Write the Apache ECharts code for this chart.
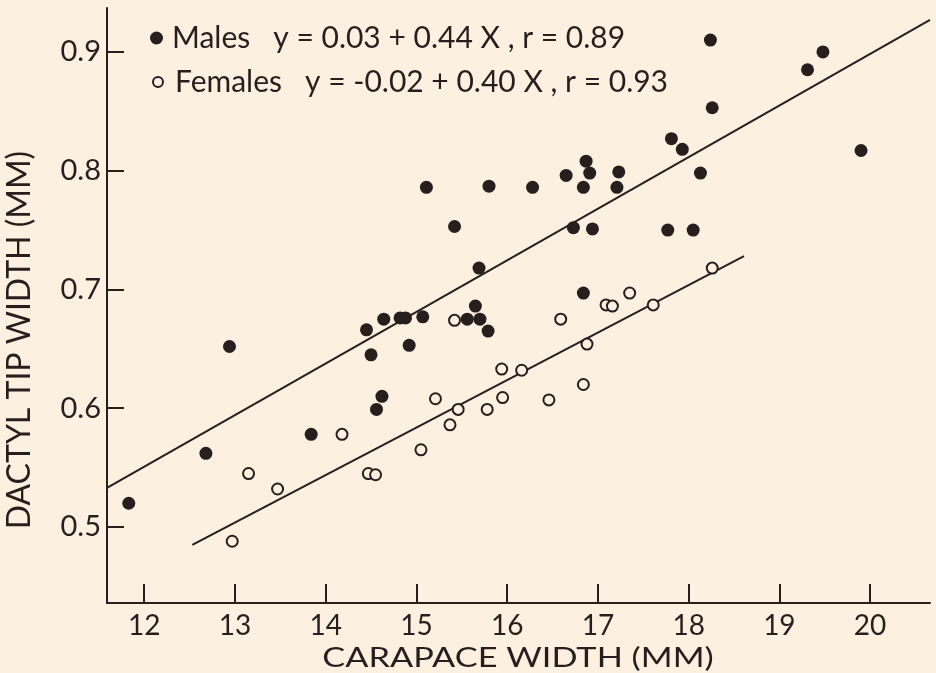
<!DOCTYPE html>
<html>
<head>
<meta charset="utf-8">
<script src="https://cdn.jsdelivr.net/npm/echarts@6/dist/echarts.min.js"></script>
<style>
  html, body { margin: 0; padding: 0; background: #fcf1e0; }
  #dactyl-chart { width: 936px; height: 673px; }
</style>
</head>
<body>
<div id="dactyl-chart"></div>
<script>
// carapace width (mm) / dactyl tip width (mm)
const maleX = [11.83, 12.68, 12.94, 13.84, 14.45, 14.50, 14.56, 14.62, 14.64, 14.82, 14.88, 14.92, 15.07, 15.11,
  15.42, 15.56, 15.65, 15.69, 15.70, 15.79, 15.80, 16.28, 16.65, 16.73, 16.84, 16.87, 16.84, 16.91, 16.94,
  17.21, 17.23, 17.77, 17.81, 17.93, 18.05, 18.13, 18.24, 18.26, 19.31, 19.48, 19.90];
const maleY = [0.520, 0.562, 0.652, 0.578, 0.666, 0.645, 0.599, 0.610, 0.675, 0.676, 0.676, 0.653, 0.677, 0.786,
  0.753, 0.675, 0.686, 0.718, 0.675, 0.665, 0.787, 0.786, 0.796, 0.752, 0.786, 0.808, 0.697, 0.798, 0.751,
  0.786, 0.799, 0.750, 0.827, 0.818, 0.750, 0.798, 0.910, 0.853, 0.885, 0.900, 0.817];
const femaleX = [12.97, 13.15, 13.47, 14.18, 14.47, 14.55, 15.05, 15.21, 15.37, 15.46, 15.42, 15.78, 15.94,
  15.95, 16.16, 16.46, 16.59, 16.84, 16.88, 17.09, 17.16, 17.35, 17.61, 18.26];
const femaleY = [0.488, 0.545, 0.532, 0.578, 0.545, 0.544, 0.565, 0.608, 0.586, 0.599, 0.674, 0.599, 0.633,
  0.609, 0.632, 0.607, 0.675, 0.620, 0.654, 0.687, 0.686, 0.697, 0.687, 0.718];

// fitted lines, as drawn (end points)
const maleLineX = [11.59, 20.66];
const maleLineY = [0.533, 0.927];
const femaleLineX = [12.53, 18.61];
const femaleLineY = [0.485, 0.728];

const xTicks = [12, 13, 14, 15, 16, 17, 18, 19, 20];
const yTicks = [0.5, 0.6, 0.7, 0.8, 0.9];

const maleText = 'Males   y = 0.03 + 0.44 X , r = 0.89';
const femaleText = 'Females   y = -0.02 + 0.40 X , r = 0.93';
const xTitle = 'CARAPACE WIDTH (MM)';
const yTitle = 'DACTYL TIP WIDTH (MM)';

const ink = '#261f1e';
const paper = '#fcf1e0';
const font = 'Lato';

const zip = (xs, ys) => xs.map((x, i) => [x, ys[i]]);

const chartDom = document.getElementById('dactyl-chart');
const myChart = echarts.init(chartDom);

const option = {
  backgroundColor: paper,
  animation: false,
  textStyle: { fontFamily: font, color: ink },
  grid: { left: 107, right: 6, top: 8, bottom: 70 },
  legend: [
    {
      data: ['Males'],
      left: 150,
      top: 23,
      padding: 0,
      icon: 'circle',
      itemWidth: 13,
      itemHeight: 13,
      formatter: () => maleText,
      textStyle: { fontFamily: font, fontSize: 30, color: ink, padding: [0, 0, 0, 4] }
    },
    {
      data: ['Females'],
      left: 152,
      top: 67,
      padding: 0,
      icon: 'circle',
      itemWidth: 10,
      itemHeight: 10,
      formatter: () => femaleText,
      textStyle: { fontFamily: font, fontSize: 30, color: ink, padding: [0, 0, 0, 7] }
    }
  ],
  // axis titles: the original lettering is much wider than any installed face
  graphic: [
    {
      type: 'text',
      x: 518,
      y: 659,
      scaleX: 1.32,
      style: {
        text: xTitle,
        font: '26px ' + font,
        fill: ink,
        align: 'center',
        verticalAlign: 'middle'
      }
    },
    {
      type: 'text',
      x: 20,
      y: 340,
      rotation: Math.PI / 2,
      style: {
        text: yTitle,
        font: '32px ' + font,
        fill: ink,
        align: 'center',
        verticalAlign: 'middle'
      }
    }
  ],
  xAxis: {
    type: 'value',
    min: 11.59,
    max: 20.66,
    axisLine: { show: true, lineStyle: { color: ink, width: 2 } },
    axisTick: { show: true, inside: true, length: 19, customValues: xTicks, lineStyle: { color: ink, width: 2 } },
    axisLabel: { customValues: xTicks, fontFamily: font, fontSize: 28, color: ink, margin: 9 },
    splitLine: { show: false }
  },
  yAxis: {
    type: 'value',
    min: 0.436,
    max: 0.937,
    axisLine: { show: true, lineStyle: { color: ink, width: 2 } },
    axisTick: { show: true, inside: true, length: 17, customValues: yTicks, lineStyle: { color: ink, width: 2 } },
    axisLabel: {
      customValues: yTicks,
      fontFamily: font, fontSize: 29, color: ink, margin: 6,
      formatter: v => v.toFixed(1)
    },
    splitLine: { show: false }
  },
  series: [
    {
      name: 'Male fit',
      type: 'line',
      data: zip(maleLineX, maleLineY),
      showSymbol: false,
      silent: true,
      z: 1,
      lineStyle: { color: ink, width: 2 }
    },
    {
      name: 'Female fit',
      type: 'line',
      data: zip(femaleLineX, femaleLineY),
      showSymbol: false,
      silent: true,
      z: 1,
      lineStyle: { color: ink, width: 2 }
    },
    {
      name: 'Males',
      type: 'scatter',
      data: zip(maleX, maleY),
      symbol: 'circle',
      symbolSize: 13,
      z: 3,
      itemStyle: { color: ink, opacity: 1 }
    },
    {
      name: 'Females',
      type: 'scatter',
      data: zip(femaleX, femaleY),
      symbol: 'circle',
      symbolSize: 11,
      z: 3,
      itemStyle: { color: paper, borderColor: ink, borderWidth: 2, opacity: 1 }
    }
  ]
};

option && myChart.setOption(option);
window.addEventListener('resize', function () {
  myChart.resize();
});
</script>
</body>
</html>
